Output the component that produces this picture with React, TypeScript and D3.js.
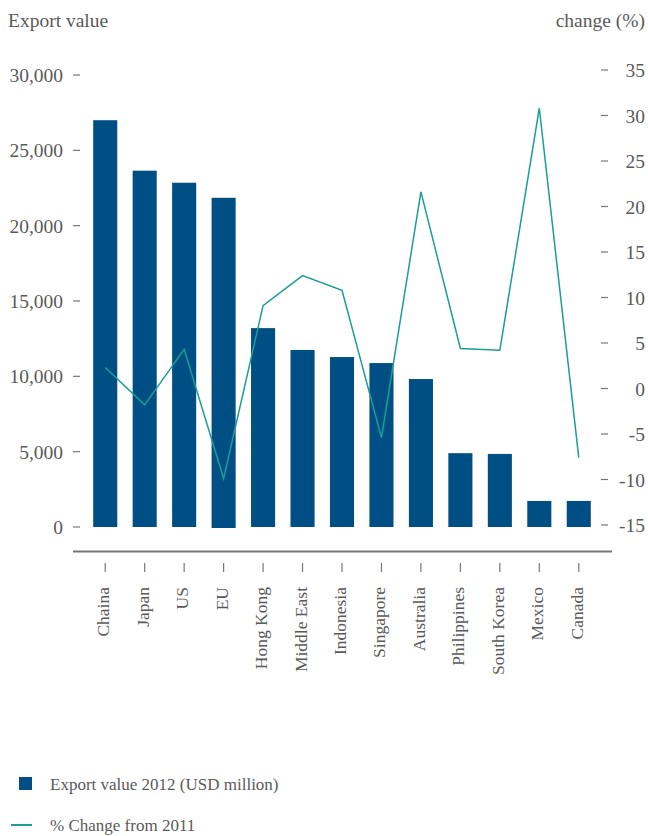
import React from "react";
import * as d3 from "d3";

const categories = ["Chaina", "Japan", "US", "EU", "Hong Kong", "Middle East", "Indonesia", "Singapore", "Australia", "Philippines", "South Korea", "Mexico", "Canada"];
const exportValues = [27000, 23650, 22850, 21850, 13200, 11750, 11280, 10880, 9820, 4900, 4850, 1730, 1730];
const changeValues = [2.3, -1.8, 4.3, -9.9, 9.1, 12.4, 10.8, -5.4, 21.6, 4.4, 4.2, 30.8, -7.6];
const leftTicks = [0, 5000, 10000, 15000, 20000, 25000, 30000];
const rightTicks = [-15, -10, -5, 0, 5, 10, 15, 20, 25, 30, 35];

const FONT = "'Liberation Serif', 'DejaVu Serif', serif";
const TEXT = "#5a5a5a";
const BAR = "#004f84";
const LINE = "#1a9e96";

export default function App() {
  const W = 648, H = 836;
  const x = d3.scaleBand<string>().domain(categories).range([85.5, 598.5]).paddingInner(0.39).paddingOuter(0.195);
  const yL = d3.scaleLinear().domain([0, 30000]).range([527, 75]);
  const yR = d3.scaleLinear().domain([-15, 35]).range([525, 70]);
  const line = d3.line<number>().x((_, i) => (x(categories[i]) as number) + x.bandwidth() / 2).y(d => yR(d));
  const fmt = d3.format(",");
  return (
    <svg width={W} height={H} style={{ position: "absolute", left: 0, top: 0 }} fontFamily={FONT}>
      <text x={8} y={27} fontSize={19.5} fill={TEXT}>Export value</text>
      <text x={645} y={27} fontSize={19.5} fill={TEXT} textAnchor="end">change (%)</text>
      {leftTicks.map(t => (
        <g key={"l" + t}>
          <line x1={73} x2={80} y1={yL(t)} y2={yL(t)} stroke="#777" strokeWidth={1.2} />
          <text x={63} y={yL(t) + 7} fontSize={19.5} fill={TEXT} textAnchor="end">{fmt(t)}</text>
        </g>
      ))}
      {rightTicks.map(t => (
        <g key={"r" + t}>
          <line x1={601} x2={608} y1={yR(t)} y2={yR(t)} stroke="#777" strokeWidth={1.2} />
          <text x={645} y={yR(t) + 7} fontSize={19.5} fill={TEXT} textAnchor="end">{t}</text>
        </g>
      ))}
      {categories.map((c, i) => {
        const v = exportValues[i];
        return <rect key={c} x={x(c)} width={x.bandwidth()} y={yL(v)} height={yL(0) - yL(v) + (c === "EU" ? 1 : 0)} fill={BAR} />;
      })}
      <path d={line(changeValues) || ""} fill="none" stroke={LINE} strokeWidth={1.5} />
      <line x1={73} x2={612} y1={551.5} y2={551.5} stroke="#777" strokeWidth={2} />
      {categories.map(c => {
        const cx = (x(c) as number) + x.bandwidth() / 2;
        return (
          <g key={"c" + c}>
            <line x1={cx} x2={cx} y1={563} y2={572} stroke="#777" strokeWidth={1.2} />
            <text transform={`translate(${cx + 4},${587}) rotate(-90)`} fontSize={17.5} fill={TEXT} textAnchor="end">{c}</text>
          </g>
        );
      })}
      <rect x={19} y={777} width={13} height={13} fill={BAR} />
      <text x={50} y={790} fontSize={17} fill={TEXT}>Export value 2012 (USD million)</text>
      <line x1={11} x2={32} y1={825} y2={825} stroke={LINE} strokeWidth={2} />
      <text x={50} y={831} fontSize={17} fill={TEXT}>% Change from 2011</text>
    </svg>
  );
}
